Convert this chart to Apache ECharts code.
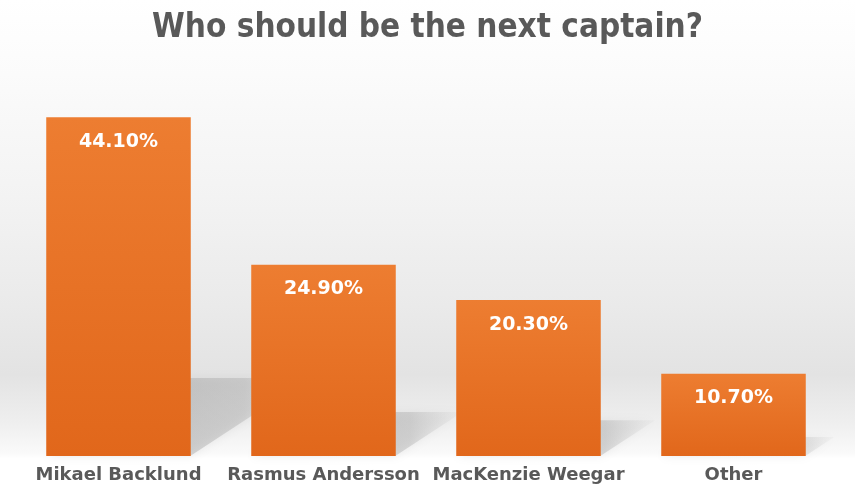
<!DOCTYPE html>
<html><head><meta charset="utf-8">
<script src="https://cdn.jsdelivr.net/npm/echarts@6/dist/echarts.min.js"></script>
<style>html,body{margin:0;padding:0;background:#fff}#c{width:855px;height:493px}</style>
</head><body><div id="c"></div>
<script>
const titleText = 'Who should be the next captain?';
const categories = ['Mikael Backlund', 'Rasmus Andersson', 'MacKenzie Weegar', 'Other'];
const values = [44.1, 24.9, 20.3, 10.7];
const labelTexts = ['44.10%', '24.90%', '20.30%', '10.70%'];

const chart = echarts.init(document.getElementById('c'), null, {renderer: 'canvas'});
chart.setOption({
  animation: false,
  backgroundColor: new echarts.graphic.LinearGradient(0, 0, 0, 1, [
    {offset: 0, color: '#ffffff'},
    {offset: 0.15, color: '#fbfbfb'},
    {offset: 0.4, color: '#f3f3f3'},
    {offset: 0.62, color: '#eaeaea'},
    {offset: 0.76, color: '#e3e3e3'},
    {offset: 0.86, color: '#efefef'},
    {offset: 0.92, color: '#fafafa'},
    {offset: 0.93, color: '#ffffff'},
    {offset: 1, color: '#ffffff'}
  ]),
  title: {
    text: titleText, left: 'center', top: 7,
    textStyle: {fontFamily: '"Liberation Sans Narrow","DejaVu Sans Condensed",sans-serif', fontWeight: 'bold', fontSize: 33, color: '#595959'}
  },
  grid: {left: 16, right: 19, top: 72, bottom: 37},
  xAxis: {
    type: 'category', data: categories,
    axisLine: {show: false}, axisTick: {show: false},
    axisLabel: {interval: 0, color: '#595959', fontFamily: '"DejaVu Sans",sans-serif', fontWeight: 'bold', fontSize: 18, margin: 10}
  },
  yAxis: {type: 'value', min: 0, max: 50, show: false, splitLine: {show: false}},
  series: [
    {
      type: 'custom', z: 1,
      data: values.map((v, i) => [i, v]),
      renderItem: function (params, api) {
        const i = api.value(0), v = api.value(1);
        const base = api.coord([i, 0]);
        const top = api.coord([i, v]);
        const w = api.size([1, 0])[0] * 0.7;
        const h = base[1] - top[1];
        const dy = h * 0.23, dx = dy * 1.53;
        const x0 = base[0] - w / 2, x1 = base[0] + w / 2, y0 = base[1];
        return {
          type: 'polygon',
          shape: {points: [[x0, y0], [x1, y0], [x1 + dx, y0 - dy], [x0 + dx, y0 - dy]]},
          style: {
            fill: new echarts.graphic.LinearGradient(0, 0, 1, 0, [
              {offset: 0, color: 'rgba(150,150,150,0.5)'},
              {offset: 0.75, color: 'rgba(170,170,170,0.4)'},
              {offset: 1, color: 'rgba(200,200,200,0.1)'}
            ]),
            shadowBlur: 10, shadowColor: 'rgba(150,150,150,0.4)'
          }
        };
      }
    },
    {
      type: 'bar', z: 2, barWidth: '70.5%',
      data: values,
      itemStyle: {
        color: new echarts.graphic.LinearGradient(0, 0, 0, 1, [
          {offset: 0, color: '#ED7D31'},
          {offset: 1, color: '#E1671B'}
        ])
      },
      label: {
        show: true, position: 'insideTop', distance: 15,
        formatter: p => labelTexts[p.dataIndex],
        color: '#ffffff', fontFamily: '"DejaVu Sans",sans-serif', fontWeight: 'bold', fontSize: 19
      }
    }
  ]
});
</script></body></html>
